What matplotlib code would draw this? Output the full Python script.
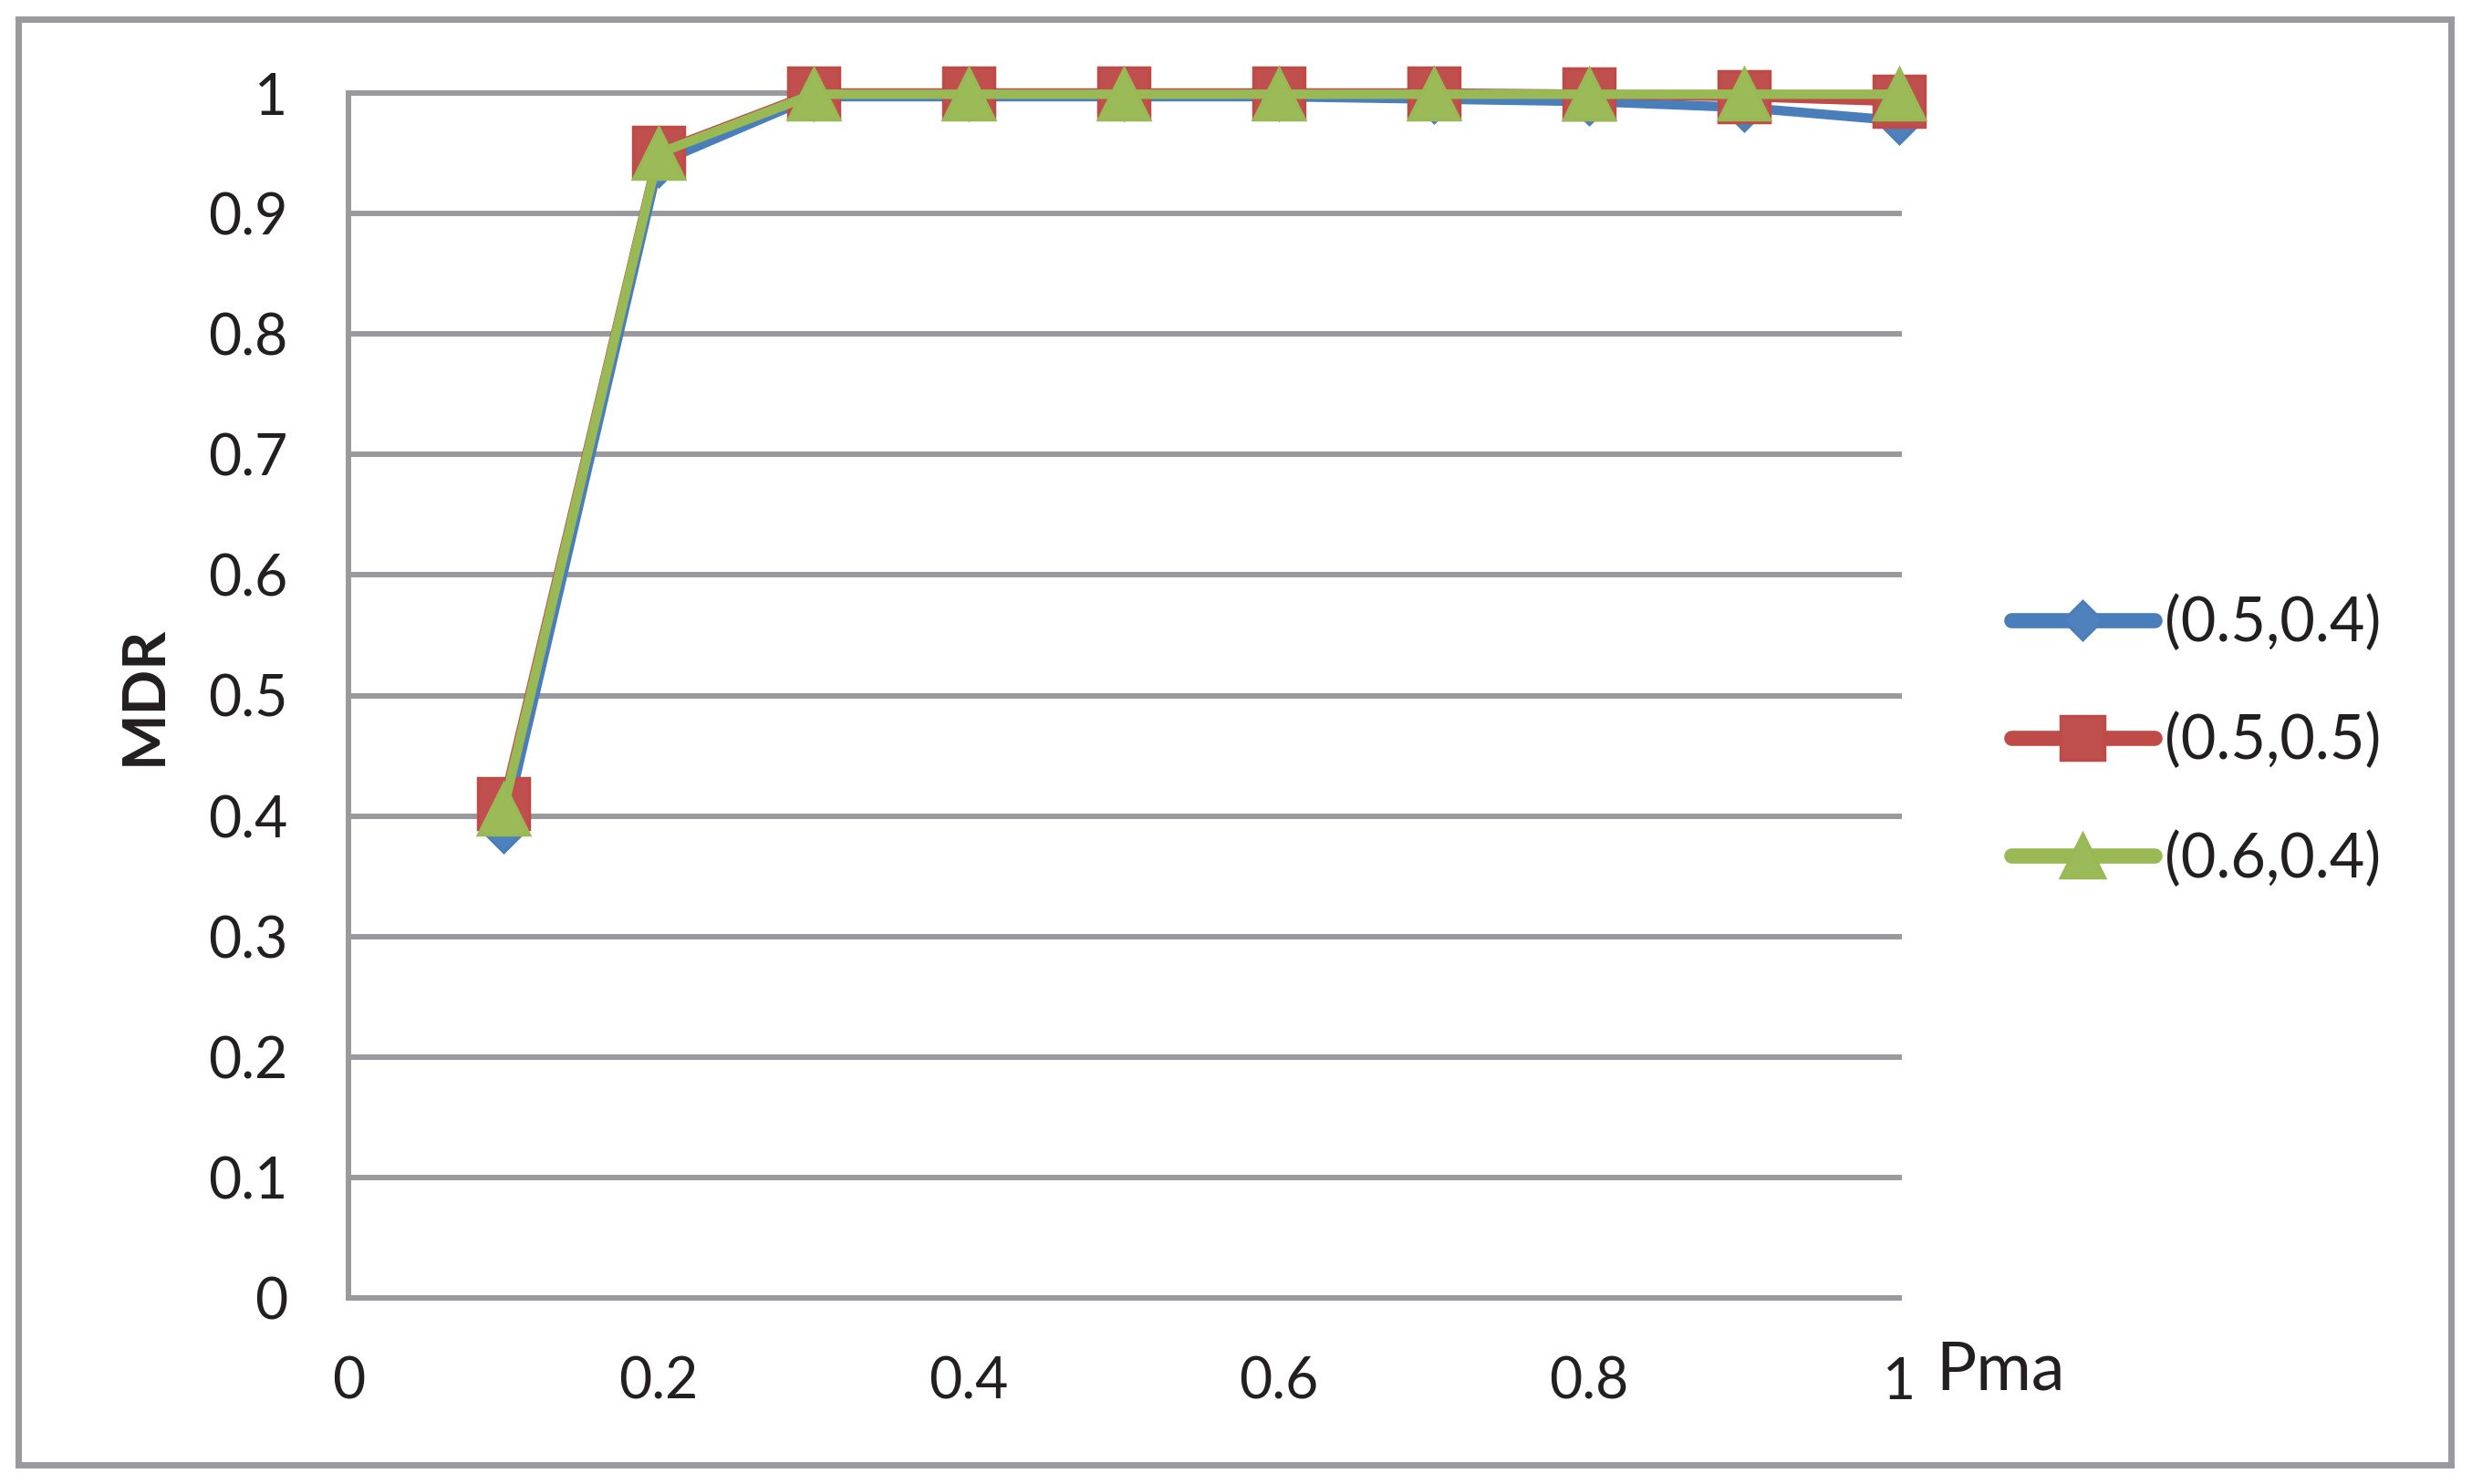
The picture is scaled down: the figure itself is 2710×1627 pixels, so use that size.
import matplotlib
matplotlib.use('Agg')
import matplotlib.pyplot as plt
import matplotlib.patches as mpatches
import numpy as np

pma = [0.1, 0.2, 0.3, 0.4, 0.5, 0.6, 0.7, 0.8, 0.9, 1.0]
mdr_05_04 = [0.389, 0.942, 0.997, 0.997, 0.997, 0.997, 0.995, 0.993, 0.988, 0.977]
mdr_05_05 = [0.410, 0.951, 1.000, 1.000, 1.000, 1.000, 1.000, 0.999, 0.997, 0.993]
mdr_06_04 = [0.406, 0.950, 0.999, 0.999, 0.999, 0.999, 0.999, 0.999, 0.999, 0.999]
labels = ['(0.5,0.4)', '(0.5,0.5)', '(0.6,0.4)']

xticks = [0, 0.2, 0.4, 0.6, 0.8, 1]
xticklabels = ['0', '0.2', '0.4', '0.6', '0.8', '1']
yticks = [0, 0.1, 0.2, 0.3, 0.4, 0.5, 0.6, 0.7, 0.8, 0.9, 1]
yticklabels = ['0', '0.1', '0.2', '0.3', '0.4', '0.5', '0.6', '0.7', '0.8', '0.9', '1']

grey = '#9a9a9e'
plt.rcParams['font.family'] = ['Lato', 'DejaVu Sans']

W, H = 2710, 1627
fig = plt.figure(figsize=(W / 100, H / 100), dpi=100)
ax = fig.add_axes([382 / W, 1 - 1423 / H, (2082 - 382) / W, (1423 - 102) / H])

# outer chart border
fig.patches.append(mpatches.Rectangle((20 / W, 1 - 1606 / H), (2687 - 20) / W, (1606 - 21) / H,
                                      transform=fig.transFigure, fill=False,
                                      edgecolor=grey, linewidth=5, zorder=0))

styles = [
    dict(color='#4a7ebb', marker='D', ms=25, mfc='#4f81bd', mec='#4a7ebb'),
    dict(color='#be4b48', marker='s', ms=40, mfc='#c0504d', mec='#be4b48'),
    dict(color='#98b954', marker='^', ms=40, mfc='#9bbb59', mec='#98b954'),
]
series = [mdr_05_04, mdr_05_05, mdr_06_04]
lines = []
for vals, lab, st in zip(series, labels, styles):
    ln, = ax.plot(pma, vals, label=lab, lw=7.5, mew=2.5, clip_on=False,
                  solid_capstyle='round', solid_joinstyle='round', **st)
    lines.append(ln)

ax.set_xlim(0, 1)
ax.set_ylim(0, 1)
ax.set_xticks(xticks)
ax.set_xticklabels(xticklabels)
ax.set_yticks(yticks)
ax.set_yticklabels(yticklabels)
ax.tick_params(length=0, labelsize=45, colors='#231f20')
ax.tick_params(axis='y', pad=48)
ax.tick_params(axis='x', pad=46)
ax.grid(axis='y', color=grey, linewidth=4.3)
for gl in ax.get_ygridlines():
    gl.set_clip_on(False)
ax.set_axisbelow(True)

for s in ['top', 'right']:
    ax.spines[s].set_visible(False)
for s in ['left', 'bottom']:
    ax.spines[s].set_color(grey)
    ax.spines[s].set_linewidth(4.3)

fig.text(158 / W, 1 - 762 / H, 'MDR', rotation=90, ha='center', va='center',
         fontsize=47, fontweight='bold', color='#231f20')
fig.text(2122 / W, 1 - 1523 / H, 'Pma', ha='left', va='baseline',
         fontsize=53, color='#231f20')

leg = fig.legend(handles=lines, loc='center left', bbox_to_anchor=(2205 / W, 1 - 813 / H),
                 frameon=False, fontsize=48, handlelength=2.35, handletextpad=0.17,
                 labelspacing=1.0, borderpad=0, borderaxespad=0, markerscale=0.85)
for h in leg.get_lines():
    h.set_linewidth(12)
for t in leg.get_texts():
    t.set_color('#231f20')

fig.savefig('out.png', dpi=100)
